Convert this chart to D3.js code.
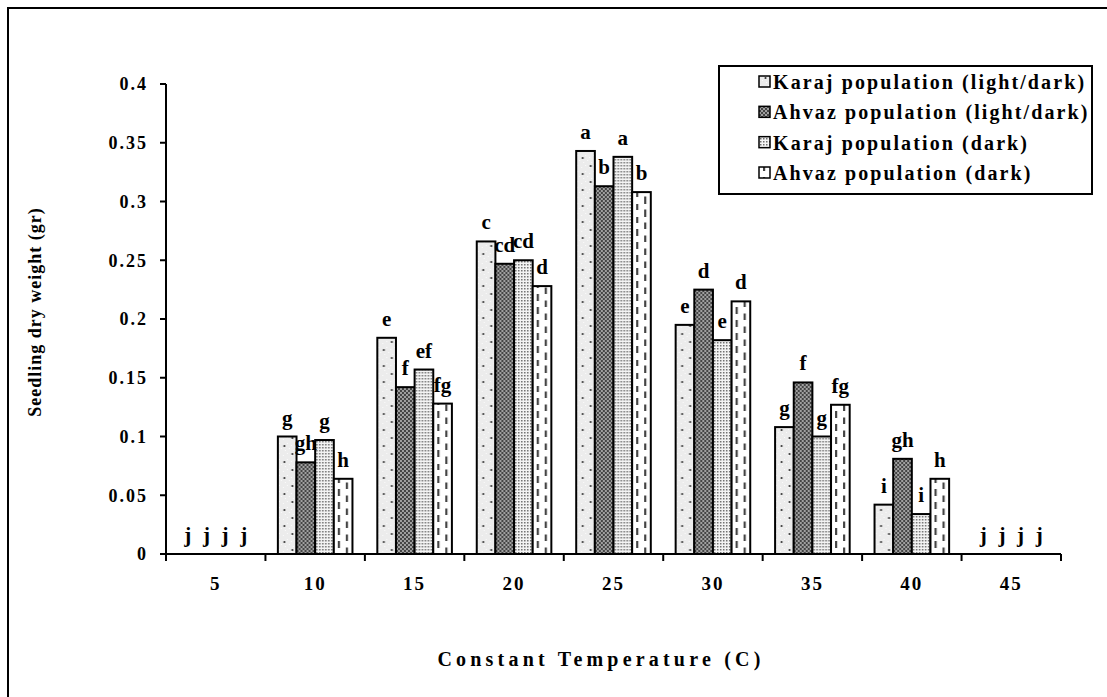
<!DOCTYPE html>
<html>
<head>
<meta charset="utf-8">
<script src="https://cdn.jsdelivr.net/npm/d3@7"></script>
<style>
  html, body { margin: 0; padding: 0; background: #fff; }
  svg { display: block; }
  text { font-family: "Liberation Serif", "Times New Roman", serif; font-weight: bold; fill: #000; }
</style>
</head>
<body>
<svg id="chart" width="1107" height="697"></svg>
<script>
// ---- data ----
const categories = ["5", "10", "15", "20", "25", "30", "35", "40", "45"];
const seriesNames = [
  "Karaj population (light/dark)",
  "Ahvaz population (light/dark)",
  "Karaj population (dark)",
  "Ahvaz population (dark)"
];
const karajLD  = [0, 0.100, 0.184, 0.266, 0.343, 0.195, 0.108, 0.042, 0];
const ahvazLD  = [0, 0.078, 0.142, 0.247, 0.313, 0.225, 0.146, 0.081, 0];
const karajD   = [0, 0.097, 0.157, 0.250, 0.338, 0.182, 0.100, 0.034, 0];
const ahvazD   = [0, 0.064, 0.128, 0.228, 0.308, 0.215, 0.127, 0.064, 0];
const letKarajLD = ["j", "g", "e", "c", "a", "e", "g", "i", "j"];
const letAhvazLD = ["j", "gh", "f", "cd", "b", "d", "f", "gh", "j"];
const letKarajD  = ["j", "g", "ef", "cd", "a", "e", "g", "i", "j"];
const letAhvazD  = ["j", "h", "fg", "d", "b", "d", "fg", "h", "j"];
const yTicks = [0, 0.05, 0.1, 0.15, 0.2, 0.25, 0.3, 0.35, 0.4];
const yTickLabels = ["0", "0.05", "0.1", "0.15", "0.2", "0.25", "0.3", "0.35", "0.4"];
const xTitle = "Constant Temperature (C)";
const yTitle = "Seedling dry weight (gr)";

const seriesValues = [karajLD, ahvazLD, karajD, ahvazD];
const seriesLetters = [letKarajLD, letAhvazLD, letKarajD, letAhvazD];

// ---- layout ----
const svg = d3.select("#chart");
const plot = { left: 166, right: 1061, top: 84, bottom: 554 };

const x = d3.scaleBand().domain(categories).range([plot.left, plot.right])
  .paddingInner(0.25).paddingOuter(0.125);
const xs = d3.scaleBand().domain(d3.range(seriesNames.length)).range([0, x.bandwidth()]);
const y = d3.scaleLinear().domain([0, 0.4]).range([plot.bottom, plot.top]);

// outer frame (only top/left visible in the crop)
svg.append("rect").attr("x", 8).attr("y", 8).attr("width", 1120).attr("height", 720)
  .attr("fill", "none").attr("stroke", "#000").attr("stroke-width", 2);

// ---- patterns ----
const defs = svg.append("defs");
function makePattern(id, s, x0) {
  const p = defs.append("pattern").attr("id", id).attr("patternUnits", "userSpaceOnUse")
    .attr("x", x0).attr("y", plot.bottom);
  if (s === 0) {
    p.attr("width", 16).attr("height", 16);
    p.append("rect").attr("width", 16).attr("height", 16).attr("fill", "#ececec");
    [[1,1],[5,3],[9,1],[13,3],[3,6],[7,8],[11,6],[15,8],[1,11],[5,13],[9,11],[13,13]].forEach(d =>
      p.append("rect").attr("x", d[0]).attr("y", d[1]).attr("width", 1).attr("height", 1).attr("fill", "#fbfbfb"));
    p.append("circle").attr("cx", 6.5).attr("cy", 4).attr("r", 1.1).attr("fill", "#333");
    p.append("circle").attr("cx", 14.5).attr("cy", 12).attr("r", 1.1).attr("fill", "#333");
  } else if (s === 1) {
    p.attr("width", 4).attr("height", 4);
    p.append("rect").attr("width", 4).attr("height", 4).attr("fill", "#a0a0a0");
    p.append("rect").attr("width", 2).attr("height", 2).attr("fill", "#444");
    p.append("rect").attr("x", 2).attr("y", 2).attr("width", 2).attr("height", 2).attr("fill", "#444");
  } else if (s === 2) {
    p.attr("width", 3).attr("height", 3);
    p.append("rect").attr("width", 3).attr("height", 3).attr("fill", "#f4f4f4");
    p.append("rect").attr("x", 1).attr("y", 1).attr("width", 1.5).attr("height", 1.5).attr("fill", "#6e6e6e");
  } else {
    p.attr("width", 16).attr("height", 13);
    p.append("rect").attr("width", 16).attr("height", 13).attr("fill", "#fff");
    p.append("rect").attr("x", 4).attr("y", 0).attr("width", 2.2).attr("height", 7).attr("fill", "#444");
    p.append("rect").attr("x", 12).attr("y", 6.5).attr("width", 2.2).attr("height", 7).attr("fill", "#444");
  }
  return "url(#" + id + ")";
}

// ---- bars ----
const barData = [];
categories.forEach((c, i) => {
  seriesValues.forEach((vals, s) => {
    barData.push({ cat: c, i, s, v: vals[i], lab: seriesLetters[s][i] });
  });
});

const gBars = svg.append("g");
barData.forEach(d => {
  const bx = x(d.cat) + xs(d.s);
  const fill = makePattern("p" + d.i + "_" + d.s, d.s, bx);
  if (d.v > 0) {
    gBars.append("rect")
      .attr("x", bx).attr("y", y(d.v))
      .attr("width", xs.bandwidth()).attr("height", y(0) - y(d.v))
      .attr("fill", fill).attr("stroke", "#000").attr("stroke-width", 2);
  }
});
barData.forEach(d => {
  const bx = x(d.cat) + xs(d.s);
  gBars.append("text")
    .attr("x", bx + xs.bandwidth() / 2)
    .attr("y", y(d.v) - 12)
    .attr("text-anchor", "middle")
    .attr("font-size", 21)
    .text(d.lab);
});

// ---- axes ----
const axisG = svg.append("g");
axisG.append("line").attr("x1", plot.left).attr("x2", plot.left)
  .attr("y1", y(0.4)).attr("y2", y(0)).attr("stroke", "#000").attr("stroke-width", 2);
yTicks.forEach((t, k) => {
  axisG.append("line").attr("x1", plot.left - 6).attr("x2", plot.left)
    .attr("y1", y(t)).attr("y2", y(t)).attr("stroke", "#000").attr("stroke-width", 2);
  axisG.append("text").attr("x", plot.left - 18).attr("y", y(t)).attr("dy", "0.35em")
    .attr("text-anchor", "end").attr("font-size", 18).attr("letter-spacing", 2)
    .text(yTickLabels[k]);
});
axisG.append("line").attr("x1", plot.left).attr("x2", plot.right)
  .attr("y1", y(0)).attr("y2", y(0)).attr("stroke", "#000").attr("stroke-width", 2);
const step = x.step();
const boundaries = categories.map(c => x(c) - step * x.paddingInner() / 2).concat([plot.right]);
boundaries.forEach(bx => {
  axisG.append("line").attr("x1", bx).attr("x2", bx)
    .attr("y1", y(0)).attr("y2", y(0) + 7).attr("stroke", "#000").attr("stroke-width", 2);
});
categories.forEach(c => {
  axisG.append("text").attr("x", x(c) + x.bandwidth() / 2).attr("y", y(0) + 36)
    .attr("text-anchor", "middle").attr("font-size", 19).attr("letter-spacing", 2)
    .text(c);
});

// ---- titles ----
svg.append("text").attr("x", 601).attr("y", 666)
  .attr("text-anchor", "middle").attr("font-size", 20).attr("letter-spacing", 4.2)
  .text(xTitle);
svg.append("text")
  .attr("transform", "translate(41," + 312 + ") rotate(-90)")
  .attr("text-anchor", "middle").attr("font-size", 18).attr("letter-spacing", 1)
  .text(yTitle);

// ---- legend ----
const lg = svg.append("g");
lg.append("rect").attr("x", 719).attr("y", 66).attr("width", 373).attr("height", 128)
  .attr("fill", "#fff").attr("stroke", "#000").attr("stroke-width", 2);
const legendRowY = d3.scalePoint().domain(d3.range(seriesNames.length)).range([82, 173]);
seriesNames.forEach((name, s) => {
  const ry = legendRowY(s);
  const fill = makePattern("lp" + s, s, 759);
  lg.append("rect").attr("x", 759).attr("y", ry - 6).attr("width", 11).attr("height", 11)
    .attr("fill", fill).attr("stroke", "#000").attr("stroke-width", 1.5);
  lg.append("text").attr("x", 773).attr("y", ry).attr("dy", "0.35em")
    .attr("font-size", 20).attr("letter-spacing", 2.1)
    .text(name);
});
</script>
</body>
</html>
